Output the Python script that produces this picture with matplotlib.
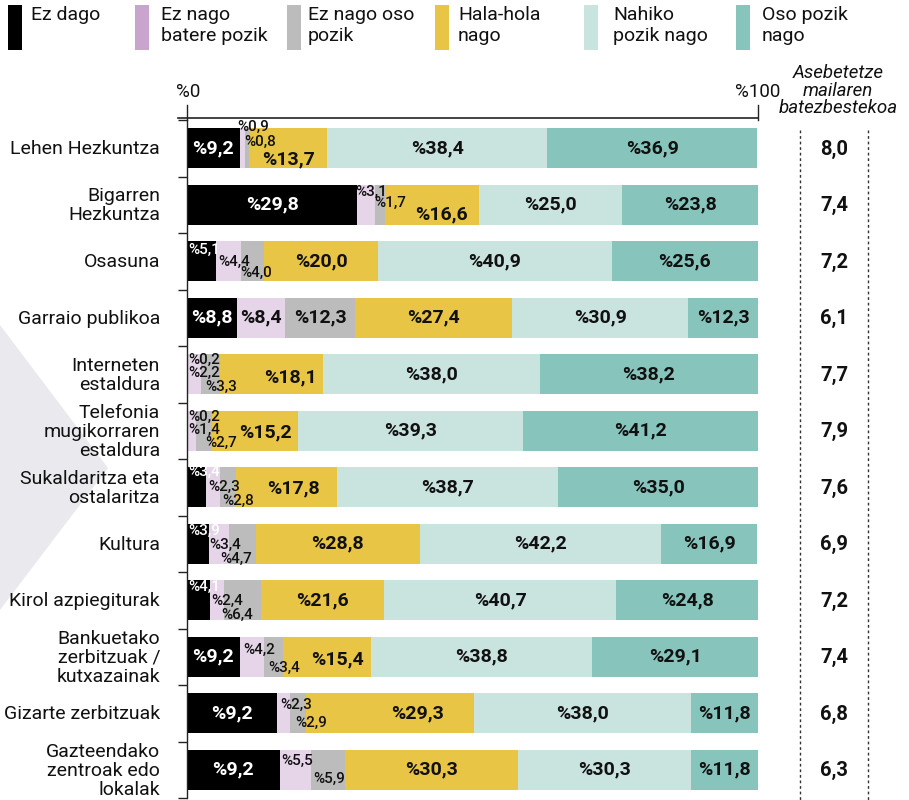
import matplotlib
matplotlib.use('Agg')
import matplotlib.pyplot as plt
import matplotlib.transforms as mtransforms
from matplotlib.patches import Polygon, Rectangle
from matplotlib.lines import Line2D
import numpy as np

plt.rcParams['font.family'] = ['Roboto', 'DejaVu Sans']

categories = ["Lehen Hezkuntza", "Bigarren\nHezkuntza", "Osasuna", "Garraio publikoa",
              "Interneten\nestaldura", "Telefonia\nmugikorraren\nestaldura",
              "Sukaldaritza eta\nostalaritza", "Kultura", "Kirol azpiegiturak",
              "Bankuetako\nzerbitzuak /\nkutxazainak", "Gizarte zerbitzuak",
              "Gazteendako\nzentroak edo\nlokalak"]
series_names = ["Ez dago", "Ez nago\nbatere pozik", "Ez nago oso\npozik", "Hala-hola\nnago",
                "Nahiko\npozik nago", "Oso pozik\nnago"]
ez_dago = [9.2, 29.8, 5.1, 8.8, 0.2, 0.2, 3.4, 3.9, 4.1, 9.2, 15.7, 16.2]
ez_batere = [0.9, 3.1, 4.4, 8.4, 2.2, 1.4, 2.3, 3.4, 2.4, 4.2, 2.3, 5.5]
ez_oso = [0.8, 1.7, 4.0, 12.3, 3.3, 2.7, 2.8, 4.7, 6.4, 3.4, 2.9, 5.9]
hala_hola = [13.7, 16.6, 20.0, 27.4, 18.1, 15.2, 17.8, 28.8, 21.6, 15.4, 29.3, 30.3]
nahiko = [38.4, 25.0, 40.9, 30.9, 38.0, 39.3, 38.7, 42.2, 40.7, 38.8, 38.0, 30.3]
oso_pozik = [36.9, 23.8, 25.6, 12.3, 38.2, 41.2, 35.0, 16.9, 24.8, 29.1, 11.8, 11.8]
batezbestekoa = [8.0, 7.4, 7.2, 6.1, 7.7, 7.9, 7.6, 6.9, 7.2, 7.4, 6.8, 6.3]
# labels printed in the source that differ from the drawn bar width
printed_labels = {(10, 0): "%9,2", (11, 0): "%9,2"}
x_ticklabels = ["%0", "%100"]
header = "Asebetetze\nmailaren\nbatezbestekoa"

series = [ez_dago, ez_batere, ez_oso, hala_hola, nahiko, oso_pozik]
bar_colors = ["#000000", "#e6d4e9", "#bcbcbc", "#e9c545", "#c9e3df", "#87c4bb"]
legend_colors = ["#000000", "#c9a4cd", "#bcbcbc", "#e9c545", "#c9e3df", "#87c4bb"]

W, H = 909, 800
fig = plt.figure(figsize=(W / 100, H / 100), dpi=100)

def fx(px):
    return px / W

def fy(py):
    return 1 - py / H

# background chevron
fig.patches.append(Polygon([(fx(0), fy(325)), (fx(108), fy(468)), (fx(0), fy(610))],
                           closed=True, transform=fig.transFigure, facecolor="#eae9ee",
                           edgecolor="none", zorder=-5))

AX_L, AX_R, AX_T, AX_B = 187, 758, 120, 798
ax = fig.add_axes([fx(AX_L), fy(AX_B), fx(AX_R - AX_L), (AX_B - AX_T) / H])
ax.patch.set_alpha(0)
ax.set_zorder(2)
n = len(categories)
ROW = (AX_B - AX_T) / n
y = np.arange(n)
left = np.zeros(n)
for vals, col in zip(series, bar_colors):
    ax.barh(y, vals, left=left, height=0.71, color=col, edgecolor="none")
    left += np.array(vals)
ax.set_xlim(0, 100)
ax.set_ylim(n - 0.5, -0.5)
for s in ["top", "right", "bottom"]:
    ax.spines[s].set_visible(False)
ax.spines["left"].set_color("#222222")
ax.spines["left"].set_linewidth(1.0)
ax.set_xticks([])
ax.set_yticks(np.arange(-0.5, n, 1))
ax.set_yticklabels([])
ax.tick_params(axis="y", length=6.5, width=1.0, color="#222222")

def px2x(px):
    return (px - AX_L) / (AX_R - AX_L) * 100

def py2y(py):
    return (py - AX_T) / ROW - 0.5

# label layout: (x_px or None for centred, y_px, size, ha)
layout = {
    (0, 1): (237, 127, 's', 'left'), (0, 2): (244, 142, 's', 'left'), (0, 3): (None, 159, 'b', 'center'),
    (1, 1): (355, 192, 's', 'left'), (1, 2): (374, 203, 's', 'left'), (1, 3): (441, 214, 'b', 'center'),
    (2, 0): (188, 250, 's', 'left'), (2, 1): (218, 262, 's', 'left'), (2, 2): (240, 273, 's', 'left'),
    (4, 0): (188, 360, 's', 'left'), (4, 1): (188, 373, 's', 'left'), (4, 2): (205, 387, 's', 'left'),
    (4, 3): (290, 377, 'b', 'center'),
    (5, 0): (188, 417, 's', 'left'), (5, 1): (188, 430, 's', 'left'), (5, 2): (205, 443, 's', 'left'),
    (5, 3): (265, 432, 'b', 'center'),
    (6, 0): (188, 472, 's', 'left'), (6, 1): (208, 487, 's', 'left'), (6, 2): (222, 501, 's', 'left'),
    (6, 3): (293, 488, 'b', 'center'),
    (7, 0): (188, 531, 's', 'left'), (7, 1): (209, 545, 's', 'left'), (7, 2): (220, 559, 's', 'left'),
    (8, 0): (188, 587, 's', 'left'), (8, 1): (211, 601, 's', 'left'), (8, 2): (221, 615, 's', 'left'),
    (9, 1): (243, 650, 's', 'left'), (9, 2): (268, 668, 's', 'left'), (9, 3): (337, 659, 'b', 'center'),
    (10, 1): (280, 705, 's', 'left'), (10, 2): (295, 723, 's', 'left'), (10, 3): (418, 713, 'b', 'center'),
    (11, 1): (281, 761, 's', 'left'), (11, 2): (313, 779, 's', 'left'),
}
dark_on_white = {(4, 0), (5, 0)}

for i in range(n):
    start = 0.0
    for j, vals in enumerate(series):
        v = vals[i]
        lab = printed_labels.get((i, j), "%" + f"{v:.1f}".replace(".", ","))
        spec = layout.get((i, j))
        if spec is None:
            xpos, ypos, size, ha = start + v / 2, i, 'b', 'center'
        else:
            xpx, ypx, size, ha = spec
            xpos = start + v / 2 if xpx is None else px2x(xpx)
            ypos = py2y(ypx)
        color = "white" if (j == 0 and (i, j) not in dark_on_white) else "#111111"
        if size == 'b':
            ax.text(xpos, ypos, lab, ha=ha, va='center', fontsize=14, fontweight='bold',
                    color=color, clip_on=False)
        else:
            ax.text(xpos, ypos, lab, ha=ha, va='center', fontsize=11, fontweight='medium',
                    color=color, clip_on=False)
        start += v

# category labels
trans_lab = mtransforms.blended_transform_factory(fig.transFigure, ax.transData)
for i, c in enumerate(categories):
    ax.text(fx(160), i + 0.02, c, transform=trans_lab, ha='right', va='center', fontsize=14,
            linespacing=1.08, color="#111111")

# right-hand averages
for i, v in enumerate(batezbestekoa):
    ax.text(fx(834), i + 0.02, f"{v:.1f}".replace(".", ","), transform=trans_lab, ha='center',
            va='center', fontsize=14.5, fontweight='bold', color="#111111")
fig.text(fx(838), fy(64), header, ha='center', va='top', fontsize=13.5, style='italic',
         linespacing=0.98, color="#111111")
for xl in (800, 868):
    fig.add_artist(Line2D([fx(xl), fx(xl)], [fy(130), fy(800)], transform=fig.transFigure,
                          color="#333333", lw=1.0, linestyle=(0, (2, 2))))

# top scale
fig.add_artist(Line2D([fx(178), fx(AX_R)], [fy(118), fy(118)], transform=fig.transFigure,
                      color="#222222", lw=1.2))
for xl in (AX_L, AX_R):
    fig.add_artist(Line2D([fx(xl), fx(xl)], [fy(105), fy(120)], transform=fig.transFigure,
                          color="#222222", lw=1.0))
fig.text(fx(188), fy(92), x_ticklabels[0], ha='center', va='center', fontsize=13.5, color="#111111")
fig.text(fx(758), fy(92), x_ticklabels[1], ha='center', va='center', fontsize=13.5, color="#111111")

# legend
rect_left = [8, 135, 287, 435, 584, 736]
text_left = [31, 161, 308, 458, 613, 762]
for name, col, rl, tl in zip(series_names, legend_colors, rect_left, text_left):
    fig.patches.append(Rectangle((fx(rl), fy(50)), fx(14), 45 / H, transform=fig.transFigure,
                                 facecolor=col, edgecolor='none'))
    fig.text(fx(tl), fy(6), name, ha='left', va='top', fontsize=14, linespacing=1.2,
             color="#111111")

fig.savefig("out.png", dpi=100)
